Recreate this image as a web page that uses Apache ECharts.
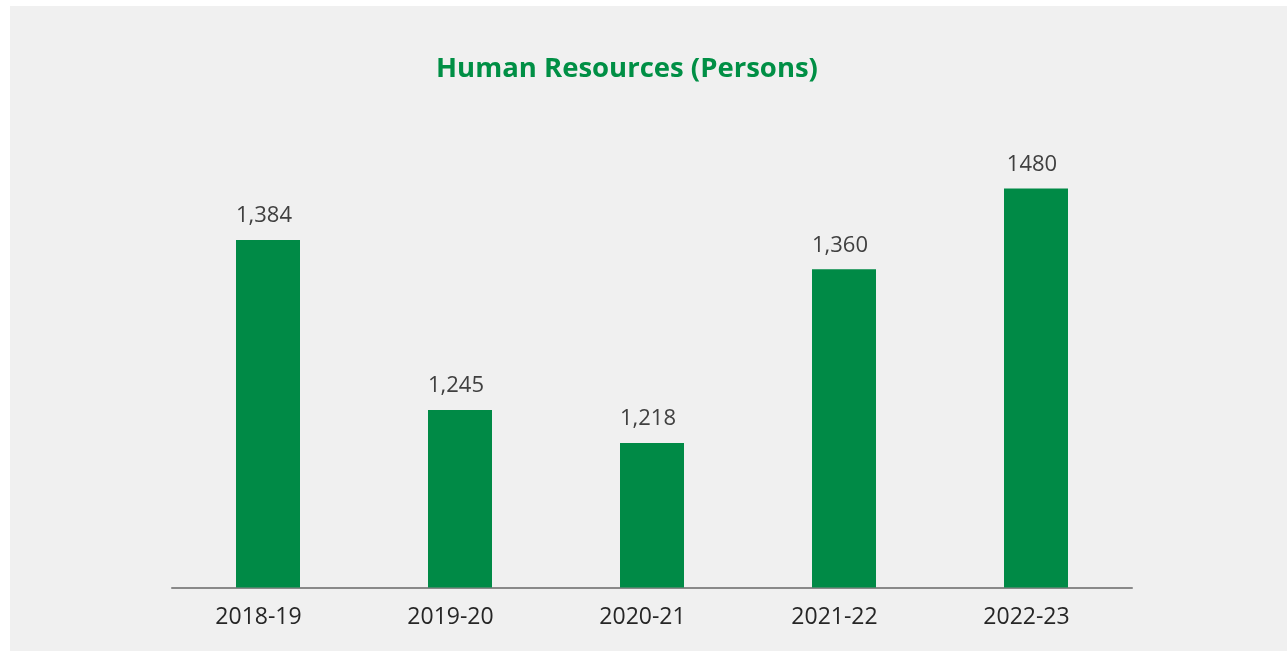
<!DOCTYPE html>
<html>
<head>
<meta charset="utf-8">
<script src="https://cdn.jsdelivr.net/npm/echarts@6/dist/echarts.min.js"></script>
<style>
html,body{margin:0;padding:0;background:#ffffff;width:1287px;height:651px;overflow:hidden;}
#chart{position:absolute;left:10px;top:6px;width:1277px;height:645px;background:#f0f0f0;}
</style>
</head>
<body>
<div id="chart"></div>
<script>
const titleText = 'Human Resources (Persons)';
const categories = ['2018-19', '2019-20', '2020-21', '2021-22', '2022-23'];
// bar heights as drawn in the picture
const barValues = [1384, 1245, 1218, 1360, 1426];
// label texts as printed above the bars
const barLabels = ['1,384', '1,245', '1,218', '1,360', '1480'];
const yMin = 1100;
const yMax = 1500;

const chart = echarts.init(document.getElementById('chart'));
chart.setOption({
  backgroundColor: '#f0f0f0',
  animation: false,
  title: {
    text: titleText,
    left: 612,
    top: 44,
    textAlign: 'center',
    textStyle: {
      fontFamily: 'Open Sans',
      fontWeight: 'bold',
      fontSize: 27.5,
      color: '#008f45'
    }
  },
  grid: { left: 162, right: 155, top: 92, bottom: 63.5 },
  xAxis: {
    type: 'category',
    data: categories,
    axisLine: { lineStyle: { color: '#898989', width: 2 } },
    axisTick: { show: false },
    axisLabel: {
      fontFamily: 'Open Sans',
      fontSize: 23,
      color: '#262626',
      margin: 18,
      padding: [0, 19, 0, 0]
    }
  },
  yAxis: {
    type: 'value',
    min: yMin,
    max: yMax,
    show: false,
    splitLine: { show: false }
  },
  series: [{
    type: 'bar',
    data: barValues,
    barWidth: 64,
    itemStyle: { color: '#008a46' },
    label: {
      show: true,
      position: 'top',
      distance: 13,
      offset: [-4, 0],
      fontFamily: 'Open Sans',
      fontSize: 22,
      color: '#404040',
      formatter: p => barLabels[p.dataIndex]
    }
  }]
});
</script>
</body>
</html>
